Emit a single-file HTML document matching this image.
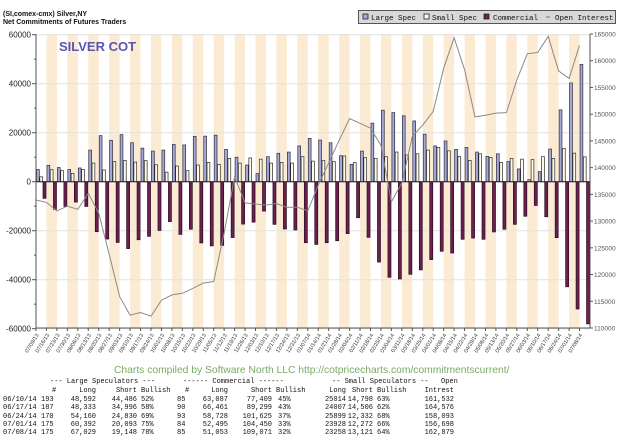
<!DOCTYPE html>
<html><head><meta charset="utf-8"><style>
html,body{margin:0;padding:0;background:#fff;width:620px;height:444px;overflow:hidden}
#wrap{position:relative;width:620px;height:444px;font-family:"Liberation Sans",sans-serif}
.t{position:absolute;font-family:"Liberation Mono",monospace;font-size:7px;color:#111;white-space:pre;line-height:8px}
</style></head><body><div id="wrap">
<svg id="chart" width="620" height="444" style="position:absolute;left:0;top:0">
<text x="3" y="16" font-family="Liberation Sans, sans-serif" font-size="7" font-weight="bold" fill="#111">(SI,comex-cmx) Silver,NY</text>
<text x="3" y="24" font-family="Liberation Sans, sans-serif" font-size="7" font-weight="bold" fill="#111">Net Commitments of Futures Traders</text>
<g id="bands"></g><g id="grid"></g><g id="bars"></g><g id="line"></g><g id="axes"></g>
<text x="59" y="51" font-family="Liberation Sans, sans-serif" font-size="13" font-weight="bold" fill="#5a55b0">SILVER COT</text>
<g>
<rect x="358.5" y="10.5" width="257" height="13" fill="#d8d8d8" stroke="#555"/>
<rect x="363" y="14" width="5" height="5" fill="#a8a8d8" stroke="#222" stroke-width="0.8"/>
<text x="371" y="20" font-family="Liberation Mono, monospace" font-size="7.5" fill="#111">Large Spec</text>
<rect x="424" y="14" width="5" height="5" fill="#fffbe8" stroke="#222" stroke-width="0.8"/>
<text x="432" y="20" font-family="Liberation Mono, monospace" font-size="7.5" fill="#111">Small Spec</text>
<rect x="484" y="14" width="5" height="5" fill="#6b2050" stroke="#222" stroke-width="0.8"/>
<text x="493" y="20" font-family="Liberation Mono, monospace" font-size="7.5" fill="#111">Commercial</text>
<line x1="546" y1="17" x2="550" y2="17" stroke="#777"/>
<text x="555" y="20" font-family="Liberation Mono, monospace" font-size="7.5" fill="#111">Open Interest</text>
</g>
<text x="114" y="373" font-family="Liberation Sans, sans-serif" font-size="10.3" fill="#7aaa66">Charts compiled by Software North LLC  http://cotpricecharts.com/commitmentscurrent/</text>
</svg>

<div class="t" style="left:50px;top:378px">--- Large Speculators ---</div>
<div class="t" style="left:183px;top:378px">------ Commercial ------</div>
<div class="t" style="left:332px;top:378px">-- Small Speculators --</div>
<div class="t" style="left:441px;top:378px">Open</div>
<div id="table"></div>

<script>
const dates=["07/09/13","07/16/13","07/23/13","07/30/13","08/06/13","08/13/13","08/20/13","08/27/13","09/03/13","09/10/13","09/17/13","09/24/13","10/01/13","10/08/13","10/15/13","10/22/13","10/29/13","11/05/13","11/12/13","11/19/13","11/26/13","12/03/13","12/10/13","12/17/13","12/24/13","12/31/13","01/07/14","01/14/14","01/21/14","01/28/14","02/04/14","02/11/14","02/18/14","02/25/14","03/04/14","03/11/14","03/18/14","03/25/14","04/01/14","04/08/14","04/15/14","04/22/14","04/29/14","05/06/14","05/13/14","05/20/14","05/27/14","06/03/14","06/10/14","06/17/14","06/24/14","07/01/14","07/08/14"];
const largeSpec=[5000,6700,5800,5000,5600,12900,18800,16900,19200,15900,13700,12500,12900,15200,15000,18500,18600,19000,13200,10000,6800,3300,10200,11600,12100,14600,17700,17000,15900,10600,7100,12500,23900,29200,28200,26900,24800,19400,14600,16600,13200,14000,12100,10300,11400,8200,5200,800,4106,13337,29330,40299,47881];
const smallSpec=[2000,4900,4500,3400,5000,7600,4800,8200,8700,8000,8600,6900,3900,6400,4500,6800,7900,7100,9500,7600,9700,9200,7600,7900,7600,10200,8400,8600,8200,10500,7800,9800,9500,10200,12100,10900,11400,12900,14000,12600,10300,8700,11400,9900,7900,9500,9200,9000,10216,9501,13567,11656,10137];
const commercial=[-6800,-11300,-10100,-8300,-10100,-20400,-23400,-24800,-27300,-23700,-22300,-19900,-16300,-21500,-19400,-25000,-26200,-26000,-22800,-17300,-16500,-12000,-17400,-19300,-19700,-24900,-25600,-24900,-24100,-21200,-14700,-22700,-32800,-39000,-39700,-37800,-36000,-31800,-28400,-29100,-23500,-23000,-23500,-20500,-19400,-17400,-14100,-9700,-14322,-22838,-42897,-51955,-58018];
const openInterest=[133950,133500,131900,132800,132200,135200,131500,123800,115900,112400,112900,112200,115200,116200,116500,117400,118400,118700,127800,138300,133400,133200,133000,133300,132600,132600,131900,136700,140900,145100,149200,148300,147400,144200,133600,137100,145800,148000,150500,158600,164300,158300,149500,149800,150200,150300,156400,161300,161532,164576,158093,156698,162879];
const leftTicks=[60000,40000,20000,0,-20000,-40000,-60000];
const rightTicks=[165000,160000,155000,150000,145000,140000,135000,130000,125000,120000,115000,110000];
const tableDates=["06/10/14","06/17/14","06/24/14","07/01/14","07/08/14"];
const lsCount=["193","187","170","175","175"];
const lsLong=["48,592","48,333","54,160","60,392","67,029"];
const lsShort=["44,486","34,996","24,830","20,093","19,148"];
const lsBull=["52%","58%","69%","75%","78%"];
const cmCount=["85","90","93","84","85"];
const cmLong=["63,087","66,461","58,728","52,495","51,053"];
const cmShort=["77,409","89,299","101,625","104,450","109,071"];
const cmBull=["45%","43%","37%","33%","32%"];
const ssLong=["25014","24007","25899","23928","23258"];
const ssShort=["14,798","14,506","12,332","12,272","13,121"];
const ssBull=["63%","62%","68%","66%","64%"];
const oiTab=["161,532","164,576","158,093","156,698","162,879"];

const NS="http://www.w3.org/2000/svg";
const X0=36,X1=590,YT=34,YB=328;
const W=(X1-X0)/dates.length;
function xw(i){return X0+i*W;}
function yL(v){return 181.7-v*147/60000;}
function yR(v){return YB-(v-110000)*(YB-YT)/55000;}
function mk(tag,attrs,parent){const e=document.createElementNS(NS,tag);for(const k in attrs)e.setAttribute(k,attrs[k]);parent.appendChild(e);return e;}
const bands=document.getElementById('bands'),grid=document.getElementById('grid'),bars=document.getElementById('bars'),lineG=document.getElementById('line'),axes=document.getElementById('axes');
for(let i=0;i<dates.length;i++){
  if(i%2===1){const b=mk('rect',{x:xw(i),y:YT,width:W,height:YB-YT,fill:'#fcebd3'},bands);
  
  }
}
leftTicks.forEach(v=>{
  const g=mk('line',{x1:X0,x2:X1,y1:yL(v),y2:yL(v),stroke:'#e2e2e2','stroke-width':1},grid);
  
  
  const t=mk('text',{x:31,y:yL(v)+3,'text-anchor':'end','font-size':8,'font-family':'Liberation Sans, sans-serif',fill:'#222'},axes);
  t.textContent=v;
  
  
  mk('line',{x1:X0-4,x2:X0,y1:yL(v),y2:yL(v),stroke:'#555'},axes);
});
for(let v=-50000;v<=50000;v+=20000){mk('line',{x1:X0-2,x2:X0,y1:yL(v),y2:yL(v),stroke:'#555'},axes);}
rightTicks.forEach(v=>{
  const t=mk('text',{x:594,y:yR(v)+2.5,'font-size':6.5,'font-family':'Liberation Sans, sans-serif',fill:'#555'},axes);
  t.textContent=v;
  
  
  mk('line',{x1:X1,x2:X1+3,y1:yR(v),y2:yR(v),stroke:'#555'},axes);
});
for(let i=0;i<dates.length;i++){
  const x=xw(i);
  const y0=yL(0);
  let v=largeSpec[i];
  const a=mk('rect',{x:x+0.5,y:Math.min(yL(v),y0),width:2.8,height:Math.abs(yL(v)-y0),fill:'#a8a8d8',stroke:'#2a2a3a','stroke-width':0.7},bars);
  
  
  v=smallSpec[i];
  const b=mk('rect',{x:x+3.8,y:Math.min(yL(v),y0),width:2.8,height:Math.abs(yL(v)-y0),fill:'#fffbe8',stroke:'#2a2a2a','stroke-width':0.7},bars);
  
  
  v=commercial[i];
  const c=mk('rect',{x:x+7,y:Math.min(yL(v),y0),width:3,height:Math.abs(yL(v)-y0),fill:'#6b2050',stroke:'#2a0a1e','stroke-width':0.7},bars);
  
  
  const lab=mk('text',{x:x+3,y:335,'text-anchor':'end','font-size':5.5,'font-family':'Liberation Sans, sans-serif',fill:'#333',transform:'rotate(-58 '+(x+3)+' 335)'},axes);
  lab.textContent=dates[i];
  
  
  mk('line',{x1:x,x2:x,y1:YB,y2:YB+3,stroke:'#555'},axes);
}
const zl=mk('line',{x1:X0,x2:X1,y1:yL(0),y2:yL(0),stroke:'#222','stroke-width':1},bars);


const pts=openInterest.map((v,i)=>xw(i).toFixed(1)+','+yR(v).toFixed(1)).join(' ');
const pl=mk('polyline',{points:pts,fill:'none',stroke:'#8a8a8a','stroke-width':1},lineG);


mk('line',{x1:X0,x2:X0,y1:YT,y2:YB,stroke:'#555'},axes);
mk('line',{x1:X1,x2:X1,y1:YT,y2:YB,stroke:'#555'},axes);
mk('line',{x1:X0,x2:X1,y1:YB,y2:YB,stroke:'#555'},axes);

const tb=document.getElementById('table');
function cell(txt,x,y,right,name){const d=document.createElement('div');d.className='t';d.textContent=txt;d.style.top=y+'px';
  if(right){d.style.right=(620-x)+'px';}else{d.style.left=x+'px';}
  
  
  tb.appendChild(d);}
const hy=387;
cell('#',52,hy,false,'col-header');cell('Long',96,hy,true,'col-header');cell('Short',137,hy,true,'col-header');cell('Bullish',141,hy,false,'col-header');
cell('#',185,hy,false,'col-header');cell('Long',228,hy,true,'col-header');cell('Short',272,hy,true,'col-header');cell('Bullish',276,hy,false,'col-header');
cell('Long',346,hy,true,'col-header');cell('Short',373,hy,true,'col-header');cell('Bullish',377,hy,false,'col-header');cell('Intrest',454,hy,true,'col-header');
for(let r=0;r<5;r++){
  const y=396+r*8.3;
  cell(tableDates[r],3,y,false,'table-date');
  cell(lsCount[r],41,y,false,'table-cell');
  cell(lsLong[r],96,y,true,'table-cell');
  cell(lsShort[r],137,y,true,'table-cell');
  cell(lsBull[r],141,y,false,'table-cell');
  cell(cmCount[r],177,y,false,'table-cell');
  cell(cmLong[r],228,y,true,'table-cell');
  cell(cmShort[r],272,y,true,'table-cell');
  cell(cmBull[r],278,y,false,'table-cell');
  cell(ssLong[r],346,y,true,'table-cell');
  cell(ssShort[r],373,y,true,'table-cell');
  cell(ssBull[r],377,y,false,'table-cell');
  cell(oiTab[r],454,y,true,'table-cell');
}
</script>
</div></body></html>
